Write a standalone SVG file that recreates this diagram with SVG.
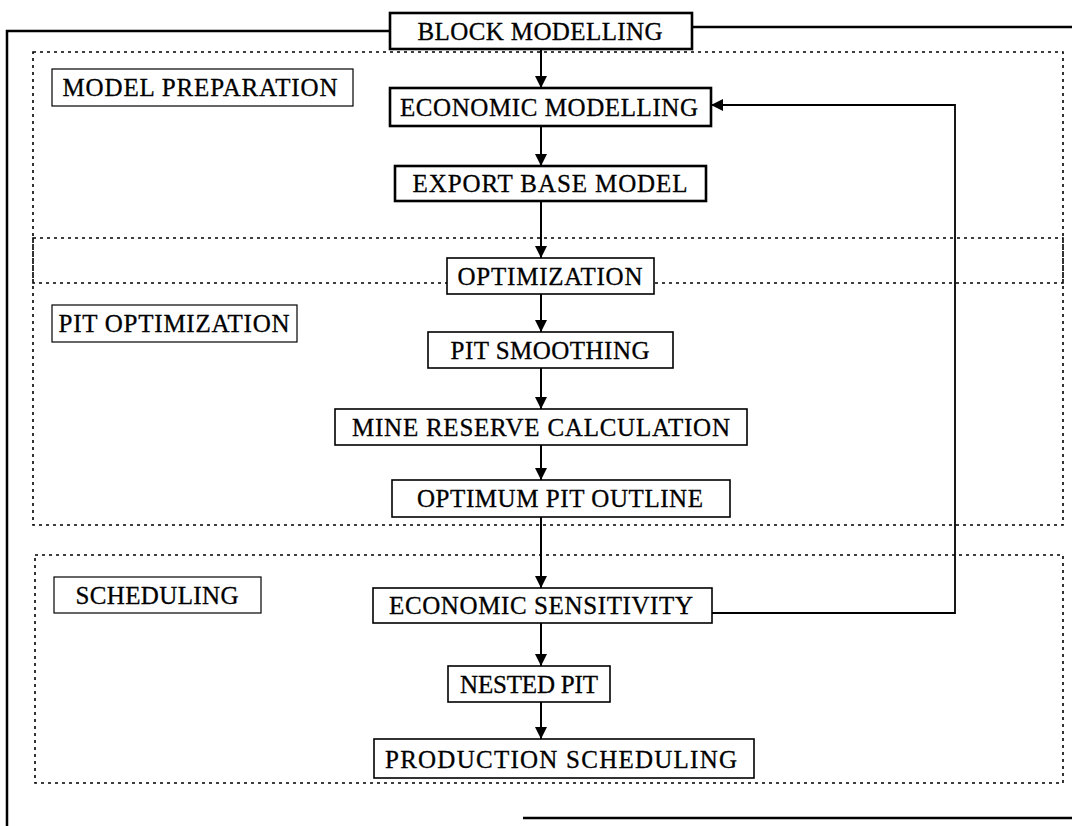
<svg xmlns="http://www.w3.org/2000/svg" width="1072" height="826" viewBox="0 0 1072 826">
<style>
.frame{fill:none;stroke:#000;stroke-width:2.5}
.region{fill:none;stroke:#000;stroke-width:1.6;stroke-dasharray:3 4}
.node rect{fill:#fff;stroke:#000;stroke-width:1.6}
.node.bold rect{stroke-width:2.6}
.label rect{fill:#fff;stroke:#000;stroke-width:1.2}
text{font-family:"Liberation Serif","Times New Roman",serif;font-size:25px;fill:#000;stroke:#000;stroke-width:0.3;text-anchor:middle}
.conn{fill:none;stroke:#000;stroke-width:2}
.fb{fill:none;stroke:#000;stroke-width:1.8}
</style>
<defs>
<marker id="arr" markerUnits="userSpaceOnUse" markerWidth="14" markerHeight="14" refX="12" refY="6" orient="auto">
<path d="M0,0 L12,6 L0,12 z" fill="#000"/>
</marker>
</defs>
<rect width="1072" height="826" fill="#fff"/>
<g id="outer-frame">
<path class="frame" d="M7,826 V31 H390 M692,27 H1072 M523,818 H1072"/>
</g>
<g id="regions">
<rect class="region" x="33" y="52" width="1030" height="231"/>
<rect class="region" x="33" y="238" width="1030" height="287"/>
<rect class="region" x="35" y="555" width="1028" height="228"/>
</g>
<g id="connectors">
<line class="conn" x1="541" y1="49" x2="541" y2="88" marker-end="url(#arr)"/>
<line class="conn" x1="541" y1="126" x2="541" y2="166" marker-end="url(#arr)"/>
<line class="conn" x1="541" y1="201" x2="541" y2="258" marker-end="url(#arr)"/>
<line class="conn" x1="541" y1="294" x2="541" y2="332" marker-end="url(#arr)"/>
<line class="conn" x1="541" y1="368" x2="541" y2="409" marker-end="url(#arr)"/>
<line class="conn" x1="541" y1="445" x2="541" y2="480" marker-end="url(#arr)"/>
<line class="conn" x1="541" y1="517" x2="541" y2="588" marker-end="url(#arr)"/>
<line class="conn" x1="541" y1="623" x2="541" y2="666" marker-end="url(#arr)"/>
<line class="conn" x1="541" y1="702" x2="541" y2="739" marker-end="url(#arr)"/>
<polyline class="fb" points="712,613 955,613 955,105 711,105" marker-end="url(#arr)"/>
</g>
<g id="label-model-preparation" class="label">
<rect x="52" y="69" width="301" height="37"/>
<text x="200" y="96" textLength="275" lengthAdjust="spacing">MODEL PREPARATION</text>
</g>
<g id="label-pit-optimization" class="label">
<rect x="52" y="305" width="245" height="37"/>
<text x="174" y="332" textLength="231" lengthAdjust="spacing">PIT OPTIMIZATION</text>
</g>
<g id="label-scheduling" class="label">
<rect x="54" y="577" width="207" height="36"/>
<text x="157" y="604" textLength="163" lengthAdjust="spacing">SCHEDULING</text>
</g>
<g id="node-block-modelling" class="node bold">
<rect x="390" y="13" width="302" height="36"/>
<text x="540" y="40" textLength="245" lengthAdjust="spacing">BLOCK MODELLING</text>
</g>
<g id="node-economic-modelling" class="node bold">
<rect x="390" y="88" width="321" height="38"/>
<text x="549" y="116" textLength="298" lengthAdjust="spacing">ECONOMIC MODELLING</text>
</g>
<g id="node-export-base-model" class="node bold">
<rect x="395" y="166" width="311" height="35"/>
<text x="550" y="192" textLength="275" lengthAdjust="spacing">EXPORT BASE MODEL</text>
</g>
<g id="node-optimization" class="node">
<rect x="447" y="258" width="207" height="36"/>
<text x="550" y="285" textLength="185" lengthAdjust="spacing">OPTIMIZATION</text>
</g>
<g id="node-pit-smoothing" class="node">
<rect x="428" y="332" width="245" height="36"/>
<text x="550" y="359" textLength="199" lengthAdjust="spacing">PIT SMOOTHING</text>
</g>
<g id="node-mine-reserve" class="node">
<rect x="335" y="409" width="412" height="36"/>
<text x="541" y="436" textLength="378" lengthAdjust="spacing">MINE RESERVE CALCULATION</text>
</g>
<g id="node-optimum-pit" class="node">
<rect x="392" y="480" width="338" height="37"/>
<text x="560" y="507" textLength="286" lengthAdjust="spacing">OPTIMUM PIT OUTLINE</text>
</g>
<g id="node-economic-sensitivity" class="node">
<rect x="373" y="588" width="339" height="35"/>
<text x="541" y="614" textLength="304" lengthAdjust="spacing">ECONOMIC SENSITIVITY</text>
</g>
<g id="node-nested-pit" class="node">
<rect x="448" y="666" width="162" height="36"/>
<text x="529" y="693" textLength="138" lengthAdjust="spacing">NESTED PIT</text>
</g>
<g id="node-production-scheduling" class="node">
<rect x="374" y="739" width="380" height="39"/>
<text x="561" y="768" textLength="352" lengthAdjust="spacing">PRODUCTION SCHEDULING</text>
</g>
</svg>
